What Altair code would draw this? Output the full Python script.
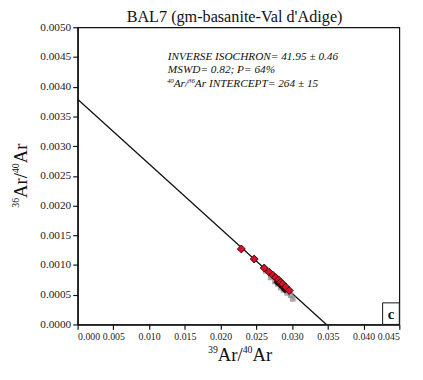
import altair as alt
import pandas as pd

# Included steps (red diamonds)
red_x = [0.0229, 0.0247, 0.0261, 0.0268, 0.0273, 0.0277, 0.0281, 0.0284, 0.0287, 0.0291, 0.0296]
red_y = [0.00127, 0.00110, 0.00095, 0.00088, 0.00083, 0.00079, 0.00075, 0.00071, 0.00068, 0.00063, 0.00057]
# Excluded / uncertainty points (gray)
gray_x = [0.0263, 0.0270, 0.0276, 0.0280, 0.0284, 0.0288, 0.0293, 0.0298, 0.0301]
gray_y = [0.00090, 0.00079, 0.00072, 0.00068, 0.00062, 0.00058, 0.00053, 0.00049, 0.00043]
# Dark cluster
dark_x = [0.0279, 0.0283, 0.0287, 0.0290]
dark_y = [0.00071, 0.00067, 0.00062, 0.00058]
# Isochron line
line_x = [0.0, 0.0348]
line_y = [0.00379, 0.0]

x_ticks = [round(i * 0.005, 3) for i in range(10)]
y_ticks = [round(i * 0.0005, 4) for i in range(11)]

title_text = "BAL7 (gm-basanite-Val d'Adige)"
ann_line1 = "INVERSE ISOCHRON= 41.95 ± 0.46"
ann_line2 = "MSWD= 0.82; P= 64%"
ann_line3 = ["40", "Ar/", "36", "Ar INTERCEPT= 264 ± 15"]
x_title = ["39", "Ar/", "40", "Ar"]
y_title = ["36", "Ar/", "40", "Ar"]

W, H = 328, 303
FONT = "Liberation Serif"

xs = alt.Scale(domain=[0, 0.045], nice=False, zero=False)
ys = alt.Scale(domain=[0, 0.005], nice=False, zero=False)

xaxis = alt.Axis(values=x_ticks, format=".3f", grid=False, title=None,
                 labelFontSize=10, labelFont=FONT, labelOverlap=False,
                 tickSize=5, domainWidth=1.5, tickWidth=1.2, labelPadding=2,
                 labelColor="#222", domainColor="#111", tickColor="#111")
yaxis = alt.Axis(values=y_ticks, format=".4f", grid=False, title=None,
                 labelFontSize=11.5, labelFont=FONT, labelOverlap=False,
                 tickSize=5, domainWidth=1.5, tickWidth=1.2, labelPadding=2,
                 labelColor="#222", domainColor="#111", tickColor="#111")

X = alt.X("x:Q", scale=xs, axis=xaxis)
Y = alt.Y("y:Q", scale=ys, axis=yaxis)

line = alt.Chart(pd.DataFrame({"x": line_x, "y": line_y})).mark_line(
    color="#111", strokeWidth=1.3).encode(x=X, y=Y)

gray = alt.Chart(pd.DataFrame({"x": gray_x, "y": gray_y})).mark_point(
    shape="square", filled=True, color="#8a8a8a", opacity=0.75, size=32
).encode(x=X, y=Y)

dark = alt.Chart(pd.DataFrame({"x": dark_x, "y": dark_y})).mark_point(
    shape="diamond", filled=True, color="#1a0505", opacity=0.9, size=55
).encode(x=X, y=Y)

red = alt.Chart(pd.DataFrame({"x": red_x, "y": red_y})).mark_point(
    shape="diamond", filled=True, fill="#d8102a", stroke="#3a0508",
    strokeWidth=1, opacity=1, size=65
).encode(x=X, y=Y)

one = pd.DataFrame({"a": [0]})


def txt(s, x, y, size, italic=False, bold=False, align="left", angle=0):
    kw = dict(align=align, baseline="alphabetic", font=FONT, fontSize=size, color="#111",
              text=s)
    if italic:
        kw["fontStyle"] = "italic"
    if bold:
        kw["fontWeight"] = "bold"
    if angle:
        kw["angle"] = angle
    return alt.Chart(one).mark_text(**kw).encode(x=alt.value(x), y=alt.value(y))


layers = [line, gray, dark, red]

# title
layers.append(txt(title_text, W / 2 - 4, -5, 16.5, align="center"))

# annotation
AX = 92
layers.append(txt(ann_line1, AX, 33, 11.5, italic=True))
layers.append(txt(ann_line2, AX, 47, 11.5, italic=True))
layers.append(txt(ann_line3[0], AX - 1, 57, 7, italic=True))
layers.append(txt(ann_line3[1], AX + 6, 61, 11.5, italic=True))
layers.append(txt(ann_line3[2], AX + 20.5, 57, 7, italic=True))
layers.append(txt(ann_line3[3], AX + 27.5, 61, 11.5, italic=True))

# x axis title
XT0, XB = 133, 340
layers.append(txt(x_title[0], XT0, XB - 8, 10))
layers.append(txt(x_title[1], XT0 + 10, XB, 19))
layers.append(txt(x_title[2], XT0 + 35.3, XB - 8, 10))
layers.append(txt(x_title[3], XT0 + 45.3, XB, 19))

# y axis title (rotated, reads bottom to top)
YB, YT0 = -52, 184
layers.append(txt(y_title[0], YB - 8, YT0, 10, angle=270))
layers.append(txt(y_title[1], YB, YT0 - 10, 19, angle=270))
layers.append(txt(y_title[2], YB - 8, YT0 - 35.3, 10, angle=270))
layers.append(txt(y_title[3], YB, YT0 - 45.3, 19, angle=270))

# "c" panel label box
layers.append(alt.Chart(one).mark_rect(fill="white", stroke="#111", strokeWidth=1).encode(
    x=alt.value(311), x2=alt.value(W), y=alt.value(H - 22), y2=alt.value(H)))
layers.append(txt("c", 319.5, H - 6, 15, bold=True, align="center"))

chart = alt.layer(*layers).properties(
    width=W, height=H,
    autosize=alt.AutoSizeParams(type="none"),
    padding={"left": 71, "top": 16, "right": 16, "bottom": 53},
).configure(font=FONT).configure_axis(labelFont=FONT).configure_view(
    stroke="#111", strokeWidth=1.2)

chart.save("out.html", embed_options={"renderer": "svg", "actions": False})
